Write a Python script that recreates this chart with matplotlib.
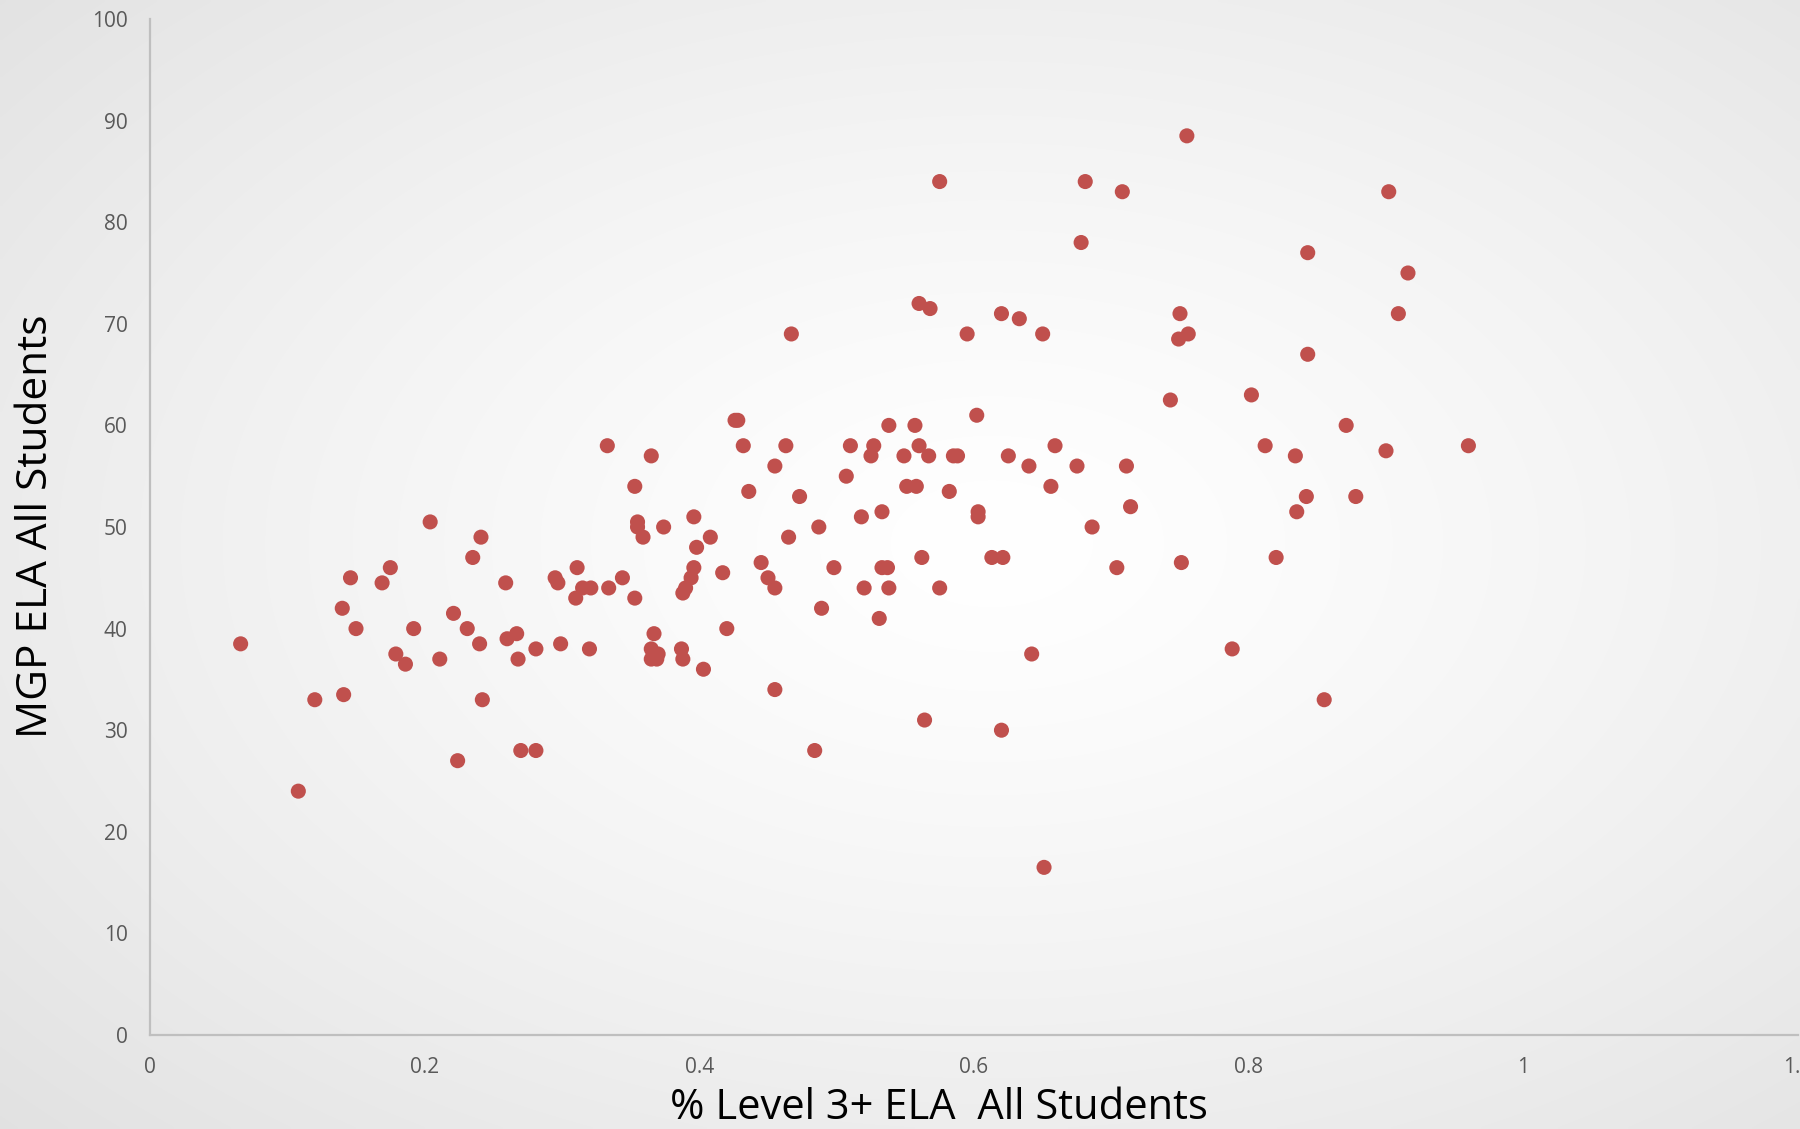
import numpy as np
import matplotlib
matplotlib.use("Agg")
import matplotlib.pyplot as plt
from matplotlib.ticker import FuncFormatter

plt.rcParams['font.family'] = ['Open Sans', 'DejaVu Sans']

# % of students at Level 3+ in ELA, and the matching median growth percentile
pct_level3 = [
    0.066, 0.108, 0.120, 0.140, 0.141, 0.146, 0.150, 0.169, 0.175, 0.179,
    0.186, 0.192, 0.204, 0.211, 0.221, 0.224, 0.231, 0.235, 0.240, 0.241,
    0.242, 0.259, 0.260, 0.267, 0.268, 0.270, 0.281, 0.281, 0.295, 0.297,
    0.299, 0.310, 0.311, 0.315, 0.321, 0.320, 0.333, 0.334, 0.344, 0.353,
    0.353, 0.355, 0.355, 0.359, 0.365, 0.367, 0.365, 0.365, 0.369, 0.370,
    0.374, 0.387, 0.388, 0.388, 0.390, 0.394, 0.396, 0.396, 0.398, 0.403,
    0.408, 0.417, 0.420, 0.426, 0.428, 0.432, 0.436, 0.445, 0.450, 0.455,
    0.455, 0.455, 0.463, 0.465, 0.467, 0.473, 0.484, 0.487, 0.489, 0.498,
    0.507, 0.510, 0.518, 0.520, 0.525, 0.527, 0.531, 0.533, 0.533, 0.537,
    0.538, 0.538, 0.549, 0.551, 0.557, 0.558, 0.560, 0.560, 0.562, 0.564,
    0.567, 0.568, 0.575, 0.575, 0.582, 0.585, 0.588, 0.595, 0.602, 0.603,
    0.603, 0.613, 0.620, 0.620, 0.621, 0.625, 0.633, 0.640, 0.642, 0.650,
    0.651, 0.656, 0.659, 0.675, 0.678, 0.681, 0.686, 0.704, 0.708, 0.711,
    0.714, 0.743, 0.750, 0.749, 0.751, 0.755, 0.756, 0.788, 0.802, 0.812,
    0.820, 0.834, 0.835, 0.842, 0.843, 0.843, 0.855, 0.871, 0.878, 0.900,
    0.902, 0.909, 0.916, 0.960,
]
mgp_ela = [
    38.5, 24.0, 33.0, 42.0, 33.5, 45.0, 40.0, 44.5, 46.0, 37.5,
    36.5, 40.0, 50.5, 37.0, 41.5, 27.0, 40.0, 47.0, 38.5, 49.0,
    33.0, 44.5, 39.0, 39.5, 37.0, 28.0, 28.0, 38.0, 45.0, 44.5,
    38.5, 43.0, 46.0, 44.0, 44.0, 38.0, 58.0, 44.0, 45.0, 54.0,
    43.0, 50.5, 50.0, 49.0, 57.0, 39.5, 38.0, 37.0, 37.0, 37.5,
    50.0, 38.0, 37.0, 43.5, 44.0, 45.0, 46.0, 51.0, 48.0, 36.0,
    49.0, 45.5, 40.0, 60.5, 60.5, 58.0, 53.5, 46.5, 45.0, 56.0,
    44.0, 34.0, 58.0, 49.0, 69.0, 53.0, 28.0, 50.0, 42.0, 46.0,
    55.0, 58.0, 51.0, 44.0, 57.0, 58.0, 41.0, 51.5, 46.0, 46.0,
    60.0, 44.0, 57.0, 54.0, 60.0, 54.0, 58.0, 72.0, 47.0, 31.0,
    57.0, 71.5, 44.0, 84.0, 53.5, 57.0, 57.0, 69.0, 61.0, 51.5,
    51.0, 47.0, 30.0, 71.0, 47.0, 57.0, 70.5, 56.0, 37.5, 69.0,
    16.5, 54.0, 58.0, 56.0, 78.0, 84.0, 50.0, 46.0, 83.0, 56.0,
    52.0, 62.5, 71.0, 68.5, 46.5, 88.5, 69.0, 38.0, 63.0, 58.0,
    47.0, 57.0, 51.5, 53.0, 77.0, 67.0, 33.0, 60.0, 53.0, 57.5,
    83.0, 71.0, 75.0, 58.0,
]

x_ticks = [0, 0.2, 0.4, 0.6, 0.8, 1.0, 1.2]
y_ticks = [0, 10, 20, 30, 40, 50, 60, 70, 80, 90, 100]

fig = plt.figure(figsize=(18, 11.29), dpi=100)

# soft radial background: white in the middle fading to light grey
bg = fig.add_axes([0, 0, 1, 1], zorder=-10)
h, w = 300, 480
yy, xx = np.mgrid[0:h, 0:w]
cx, cy = 0.55 * w, 0.48 * h
r = np.sqrt(((xx - cx) / w) ** 2 + ((yy - cy) / h) ** 2)
r = r / r.max()
shade = 1.0 - 0.115 * r ** 1.3
bg.imshow(np.dstack([shade, shade, shade]), aspect='auto', extent=[0, 1, 0, 1],
          interpolation='bilinear', origin='upper')
bg.set_axis_off()

ax = fig.add_axes([150 / 1800, 1 - 1035 / 1129, 1648 / 1800, (1035 - 19) / 1129])
ax.patch.set_alpha(0)

ax.scatter(pct_level3, mgp_ela, s=118, color='#C0504D', edgecolors='none', zorder=3)

ax.set_xlim(0, 1.2)
ax.set_ylim(0, 100)
ax.set_xticks(x_ticks)
ax.set_yticks(y_ticks)
ax.xaxis.set_major_formatter(FuncFormatter(lambda v, p: f"{v:g}"))
ax.yaxis.set_major_formatter(FuncFormatter(lambda v, p: f"{v:g}"))
ax.tick_params(axis='both', length=0, labelsize=15, labelcolor='#595959')
ax.tick_params(axis='x', pad=16)
ax.tick_params(axis='y', pad=16)

for side in ('top', 'right'):
    ax.spines[side].set_visible(False)
for side in ('left', 'bottom'):
    ax.spines[side].set_color('#BFBFBF')
    ax.spines[side].set_linewidth(1.6)

fig.text(939 / 1800, 1 - 1119 / 1129, '% Level 3+ ELA  All Students',
         ha='center', va='baseline', fontsize=30, color='black')
fig.text(36 / 1800, 1 - 526 / 1129, 'MGP ELA All Students',
         ha='center', va='center', rotation=90, fontsize=30.5, color='black')

fig.savefig('out.png', dpi=100)
